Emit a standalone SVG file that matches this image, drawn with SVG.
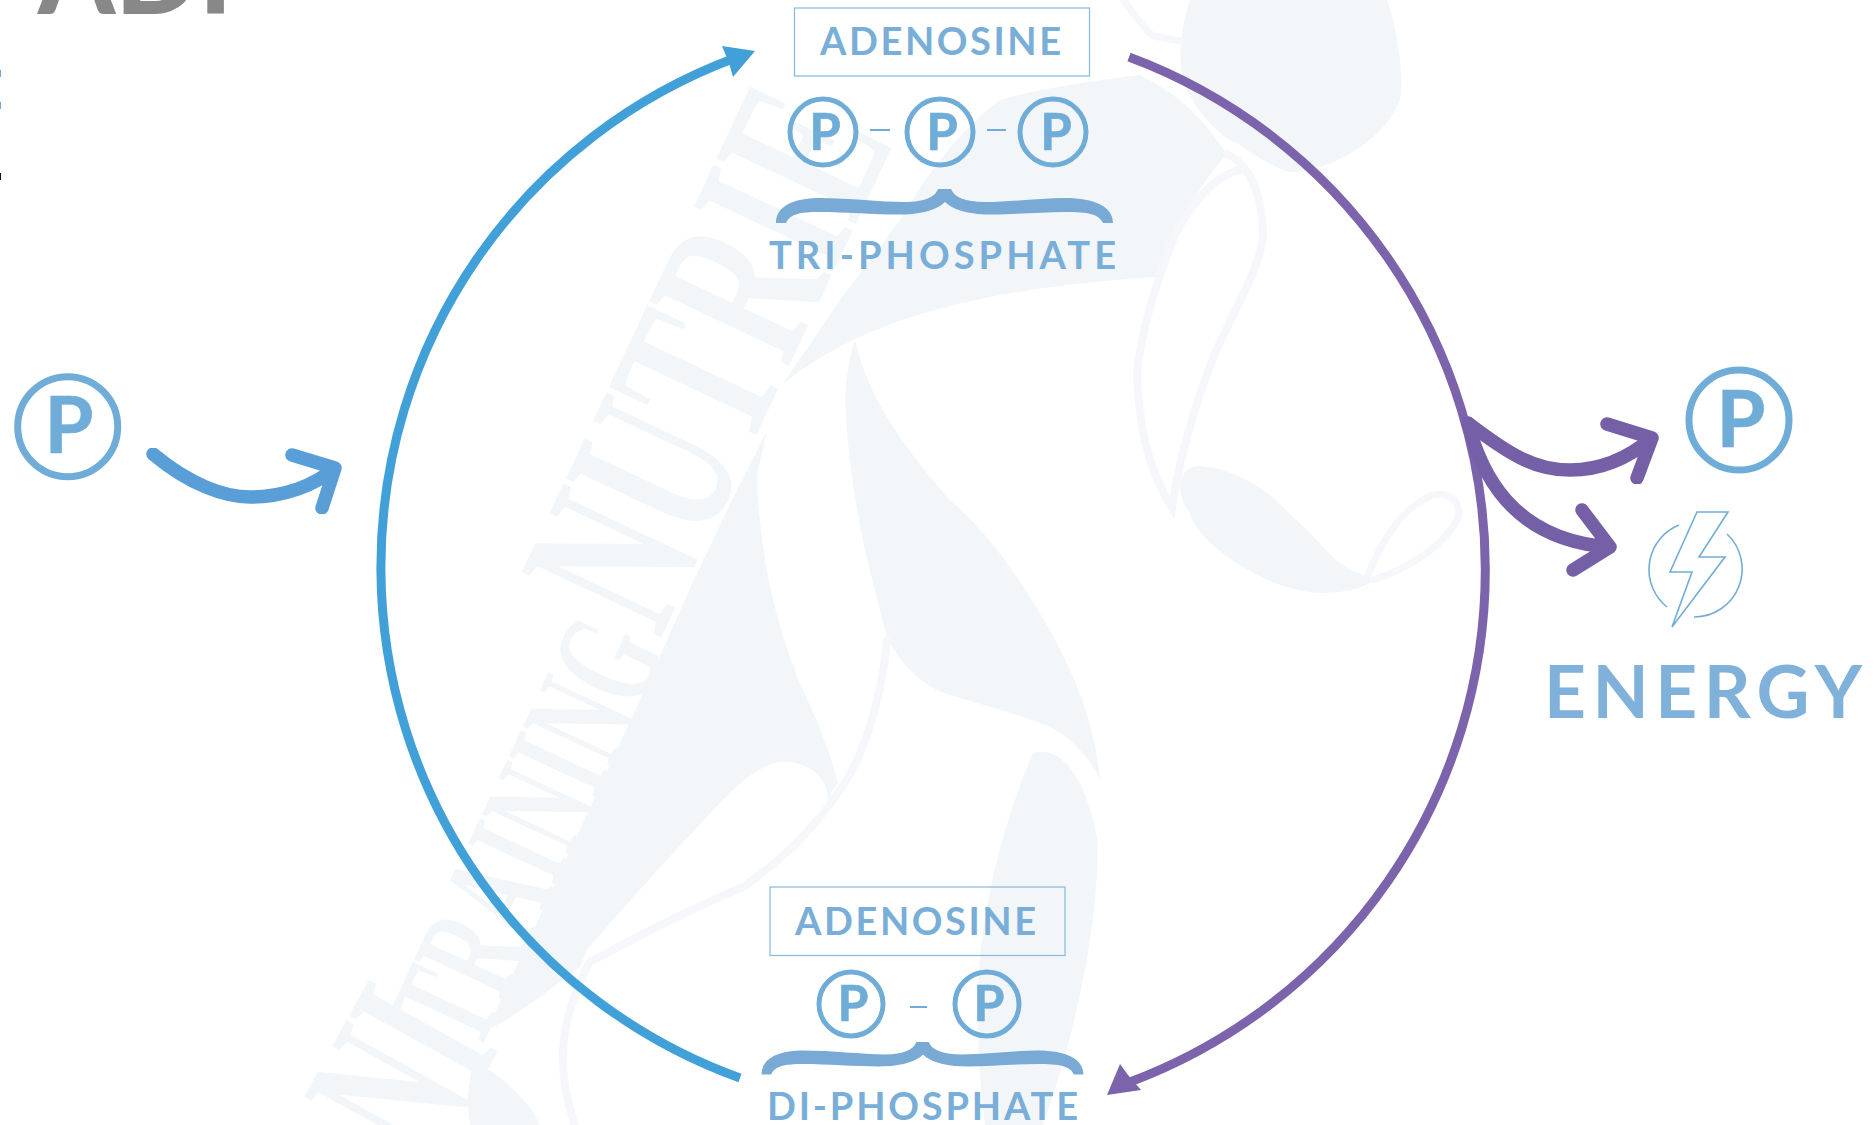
<svg xmlns="http://www.w3.org/2000/svg" xmlns:xlink="http://www.w3.org/1999/xlink" width="1875" height="1125" viewBox="0 0 1875 1125">
<style>
.lb{font-family:Lato,"Liberation Sans",sans-serif;font-weight:700;fill:#78aed8}
.pg{font-family:Lato,"Liberation Sans",sans-serif;font-weight:700;fill:#6fadd8;stroke:#6fadd8;stroke-width:.6;text-anchor:middle}
.ring{fill:none;stroke:#6fadd8}
.box{fill:none;stroke:#86b9e2;stroke-width:1.2}
.dash{stroke:#6fadd8;stroke-width:2}
.wm{fill:#f3f6f9}
.wl{fill:none;stroke:#f5f7fa;stroke-linecap:round}
.wt{font-family:"Liberation Serif",serif;font-weight:700;fill:#f3f6f9}
.arc{fill:none;stroke-width:9}
.sw{fill:none;stroke-width:13.500;stroke-linecap:round;stroke-linejoin:round;filter:url(#soft)}
.bolt{fill:none;stroke:#72add8;stroke-width:1.6}
</style>
<defs>
<filter id="soft" x="-10%" y="-10%" width="120%" height="120%"><feGaussianBlur stdDeviation=".7"/></filter>
<path id="brace" fill="#78aad5" d="M776,223C776,207 792,198 820,198C850,198 880,202 905,202C925,202 935,197 938,189L951,189C954,197 965,202 985,202C1010,202 1040,198 1065,198C1095,198 1113,207 1113,223L1103,223C1099,214 1088,212 1065,212C1040,212 1010,215 985,214.500C965,213.500 952,209 945,202C938,209 925,213.500 905,214.500C880,215 845,212 820,212C800,212 790,214 786,223Z"/>
</defs>
<rect width="1875" height="1125" fill="#fff"/>
<g id="watermark">
<path class="wm" d="M1190,0C1180,30 1178,60 1183,79C1195,115 1223,138 1240,145C1260,160 1285,172 1290,172C1330,172 1385,140 1400,100C1405,70 1395,20 1387,0Z"/>
<path class="wm" d="M782,385C850,330 950,290 1157,277C1172,235 1195,190 1227,154C1210,130 1190,100 1140,75C1100,80 1040,88 1000,100C960,130 930,170 900,220L840,300Z"/>
<path class="wl" stroke-width="8" d="M1227,154C1250,165 1263,195 1263,237C1258,270 1242,295 1227,328C1205,370 1180,450 1172,508C1155,480 1140,445 1137,375C1140,340 1153,290 1175,235C1190,205 1215,175 1240,170"/>
<path class="wm" d="M1180,486C1182,470 1190,466 1200,466C1225,468 1240,476 1257,486C1275,497 1290,515 1307,530C1325,548 1340,570 1365,575L1373,581C1360,590 1340,593 1323,593C1290,592 1260,578 1240,565C1215,550 1195,530 1190,514C1184,505 1180,496 1180,486Z"/>
<path class="wl" stroke-width="7" d="M1368,575C1380,545 1400,510 1430,496C1452,490 1462,505 1458,518C1445,545 1410,568 1373,580"/>
<path class="wl" stroke-width="7" d="M1123,0C1135,15 1145,30 1153,36L1180,41"/>
<path class="wm" d="M855,340C865,385 890,432 950,500C990,535 1017,574 1050,630C1075,675 1095,725 1100,779C1090,760 1075,740 1050,727C1025,716 983,705 950,695C925,688 900,665 887,637C880,610 873,585 865,550C855,505 847,450 845,400C846,375 850,355 855,340Z"/>
<path class="wl" stroke-width="8" d="M887,640C882,700 862,760 840,790C810,835 780,860 745,886C700,905 640,935 590,962"/>
<path class="wm" d="M767,431L758,470C757,490 758,505 760,520C765,570 775,620 800,684C815,715 830,750 838,784C830,790 829,800 828,800C828,775 805,760 780,762C765,765 750,772 720,803C680,845 630,900 587,950L580,967C555,985 520,1015 487,1030L480,1045L653,672L692,584L730,504Z"/>
<path class="wm" d="M473,1060C500,1075 530,1100 540,1125L470,1125L467,1100Z"/>
<path class="wl" stroke-width="8" d="M588,965C565,1010 552,1060 575,1125"/>
<path class="wm" d="M1033,753C1060,745 1085,775 1097,837C1100,900 1085,980 1070,1037C1060,1075 1050,1105 1043,1125L985,1125C978,1070 975,1010 980,958C985,905 1000,830 1033,753Z"/>
<text class="wt" font-size="235" textLength="552" lengthAdjust="spacingAndGlyphs" transform="translate(660,640) rotate(-64.800)">NUTRIE</text>
<text class="wt" font-size="150" textLength="446" lengthAdjust="spacingAndGlyphs" transform="translate(478,1055) rotate(-65)">TRAINING</text>
<text class="wt" font-size="225" textLength="140" lengthAdjust="spacingAndGlyphs" transform="translate(432,1170) rotate(-61)">NI</text>
</g>
<g id="stray-title"><text x="38" y="14" font-family="Lato,'Liberation Sans',sans-serif" font-weight="900" font-size="110" fill="#888">ADP</text></g>
<g id="edge-marks">
<rect x="0" y="70" width="1" height="7" fill="#6fadd8"/>
<rect x="0" y="102" width="1" height="7" fill="#6fadd8"/>
<rect x="0" y="173" width="1" height="7" fill="#111"/>
</g>
<g id="connectors">
<path class="arc" stroke="#42a0d9" d="M740,1078A543,543 0 0 1 735,58"/>
<polygon fill="#42a0d9" points="755,51 722,46 729,63 733,77"/>
<path class="arc" stroke="#7b64ac" d="M1129,57A547,547 0 0 1 1130,1082"/>
<polygon fill="#7b64ac" points="1107,1095 1120,1064 1128,1075 1141,1090"/>
<path class="sw" stroke="#5a9ed8" d="M153,454C190,485 225,497 250,497C285,497 315,485 335,468M292,455L335,468L322,508"/>
<path class="sw" stroke="#7560a8" d="M1468,423C1510,455 1535,470 1570,470C1605,470 1632,455 1652,438M1607,424L1652,438L1637,478"/>
<path class="sw" stroke="#7560a8" d="M1468,423C1480,470 1510,540 1610,547M1582,510L1610,547L1573,570"/>
</g>
<g id="atp">
<rect class="box" x="794.500" y="8" width="295" height="68"/>
<text class="lb" x="820" y="55" font-size="38" textLength="241">ADENOSINE</text>
<circle class="ring" stroke-width="5" cx="823" cy="132" r="33"/><text class="pg" x="825" y="150" font-size="51">P</text>
<line class="dash" x1="870" y1="130" x2="890" y2="130"/>
<circle class="ring" stroke-width="5" cx="940" cy="132" r="33"/><text class="pg" x="942" y="150" font-size="51">P</text>
<line class="dash" x1="987" y1="130" x2="1006" y2="130"/>
<circle class="ring" stroke-width="5" cx="1053" cy="132" r="33"/><text class="pg" x="1056" y="150" font-size="51">P</text>
<use href="#brace" xlink:href="#brace"/>
<text class="lb" x="769" y="269" font-size="38" textLength="347">TRI-PHOSPHATE</text>
</g>
<g id="adp">
<rect class="box" x="770" y="887" width="295" height="68.500"/>
<text class="lb" x="795" y="934.700" font-size="38" textLength="241">ADENOSINE</text>
<circle class="ring" stroke-width="5" cx="851" cy="1004" r="32"/><text class="pg" x="853" y="1021" font-size="50">P</text>
<line class="dash" x1="910" y1="1007" x2="927" y2="1007"/>
<circle class="ring" stroke-width="5" cx="987" cy="1004" r="32"/><text class="pg" x="989" y="1021" font-size="50">P</text>
<use href="#brace" xlink:href="#brace" transform="translate(923,1042) scale(.955) translate(-945,-189)"/>
<text class="lb" x="767" y="1120" font-size="38" textLength="311">DI-PHOSPHATE</text>
</g>
<g id="phosphate-in">
<circle class="ring" stroke-width="7" cx="67.700" cy="426.700" r="50"/><text class="pg" x="69" y="453" font-size="79">P</text>
</g>
<g id="phosphate-out">
<circle class="ring" stroke-width="7" cx="1739" cy="420" r="50"/><text class="pg" x="1741" y="447" font-size="79">P</text>
</g>
<g id="energy">
<polygon class="bolt" points="1697,512 1728,512 1699,557 1725,557 1672,627 1692,572 1670,572"/>
<path class="bolt" d="M1679,525A48,48 0 0 0 1667,607"/>
<path class="bolt" d="M1727,534A48,48 0 0 1 1694,617"/>
<text x="1544" y="718" font-family="Lato,'Liberation Sans',sans-serif" font-weight="700" font-size="73" fill="#7fb1da" textLength="318">ENERGY</text>
</g>
</svg>
